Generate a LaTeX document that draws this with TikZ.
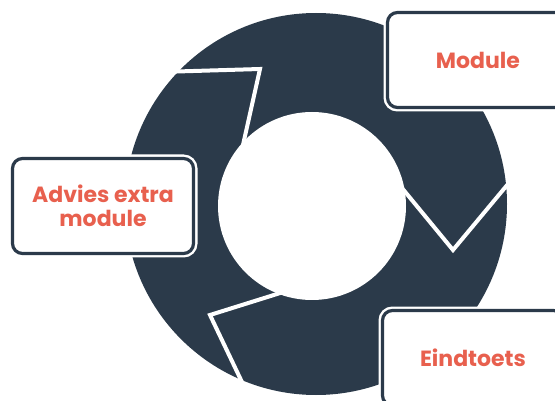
\documentclass[tikz,border=0pt]{standalone}
\usepackage{fontspec}
\setmainfont{Poppins}
\definecolor{ringnavy}{HTML}{2B3A4A}
\definecolor{labelred}{HTML}{E8604E}

\begin{document}
\begin{tikzpicture}[x=1pt,y=-1pt]
    \tikzstyle{gap}=[draw=white,line width=4pt,line join=miter]
    \tikzstyle{stage}=[rectangle,rounded corners=10pt,fill=white,draw=ringnavy,line width=3.2pt,
        minimum width=181pt,minimum height=95pt,preaction={draw=white,line width=8pt},
        font=\bfseries\fontsize{22}{24}\selectfont,text=labelred,align=center]

    \useasboundingbox (0,0) rectangle (555,401);

    % Draw the ring
    \fill[ringnavy] (316,204) circle (191pt);
    \fill[white] (312,206) circle (94pt);

    % Cut the ring into three arrows
    \foreach \ax/\ay/\bx/\by/\cx/\cy in {160/72/260/69/243/145,
                                         397/182/453/250/513/178,
                                         293/289/210/315/251/401}
        \draw[gap] (\ax,\ay) -- (\bx,\by) -- (\cx,\cy);

    % Draw the stage boxes
    \node[stage] (module) at (478,60) {Module};
    \node[stage] (eindtoets) at (473,358) {Eindtoets};
    \node[stage] (advies) at (103,206) {Advies extra\\module};
\end{tikzpicture}
\end{document}
